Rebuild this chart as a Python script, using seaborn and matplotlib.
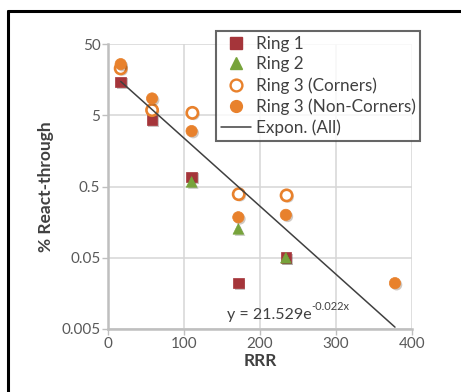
import numpy as np
import pandas as pd
import matplotlib
matplotlib.use("Agg")
import matplotlib.pyplot as plt
import matplotlib.patheffects as pe
from matplotlib.lines import Line2D
import seaborn as sns

# Measured react-through (%) against RRR for each ring position
ring1_rrr = [16.7, 58, 110, 171.5, 234]
ring1_pct = [14.7, 4.3, 0.68, 0.022, 0.050]

ring2_rrr = [110, 171.5, 234]
ring2_pct = [0.58, 0.127, 0.050]

ring3c_rrr = [16.7, 58, 111, 172, 235]
ring3c_pct = [22.7, 5.9, 5.4, 0.39, 0.375]

ring3n_rrr = [16.7, 58, 110, 171.5, 234, 377.6]
ring3n_pct = [26.1, 8.6, 3.0, 0.185, 0.20, 0.022]

# Exponential fit over all points: y = A * exp(k * x)
fit_a = 21.529
fit_k = -0.022

x_ticks = [0, 100, 200, 300, 400]
y_ticks = [0.005, 0.05, 0.5, 5, 50]
y_tick_labels = ["0.005", "0.05", "0.5", "5", "50"]

sns.set_theme(style="white")
plt.rcParams["font.family"] = ["Lato", "DejaVu Sans"]

c_red = "#A5353A"
c_green = "#77A33B"
c_orange = "#E8812C"
c_text = "#595959"

fig = plt.figure(figsize=(4.61, 3.92), dpi=100)
ax = fig.add_axes([108 / 461, 1 - 329 / 392, 304 / 461, 285 / 392])

df1 = pd.DataFrame({"RRR": ring1_rrr, "pct": ring1_pct})
df2 = pd.DataFrame({"RRR": ring2_rrr, "pct": ring2_pct})
df3c = pd.DataFrame({"RRR": ring3c_rrr, "pct": ring3c_pct})
df3n = pd.DataFrame({"RRR": ring3n_rrr, "pct": ring3n_pct})

sns.scatterplot(data=df1, x="RRR", y="pct", marker="s", s=58, color=c_red,
                edgecolor=c_red, linewidth=0.5, ax=ax, zorder=3)
sns.scatterplot(data=df2, x="RRR", y="pct", marker="^", s=58, color=c_green,
                edgecolor=c_green, linewidth=0.5, ax=ax, zorder=4)
sns.scatterplot(data=df3c, x="RRR", y="pct", marker="o", s=66, facecolor="white",
                edgecolor=c_orange, linewidth=1.9, ax=ax, zorder=5)
sns.scatterplot(data=df3n, x="RRR", y="pct", marker="o", s=66, color=c_orange,
                edgecolor=c_orange, linewidth=0.5, ax=ax, zorder=6)

for coll in ax.collections:
    coll.set_path_effects([pe.SimplePatchShadow(offset=(1.2, -1.2), alpha=0.25), pe.Normal()])

# Trend line drawn from the fitted equation across the data range
all_x = np.concatenate([ring1_rrr, ring2_rrr, ring3c_rrr, ring3n_rrr])
fit_x = np.linspace(all_x.min(), all_x.max(), 50)
fit_df = pd.DataFrame({"RRR": fit_x, "pct": fit_a * np.exp(fit_k * fit_x)})
sns.lineplot(data=fit_df, x="RRR", y="pct", color="#404040", linewidth=1.1, ax=ax, zorder=7)

ax.set_yscale("log")
ax.set_xlim(0, 400)
ax.set_ylim(0.005, 50)
ax.set_xticks(x_ticks)
ax.set_yticks(y_ticks)
ax.set_yticklabels(y_tick_labels)
ax.yaxis.set_minor_locator(matplotlib.ticker.NullLocator())

ax.grid(True, color="#D6D6D6", linewidth=1.1)
for side in ["top", "right"]:
    ax.spines[side].set_visible(False)
for side in ["left", "bottom"]:
    ax.spines[side].set_color("#BFBFBF")
    ax.spines[side].set_linewidth(1.8)
ax.tick_params(axis="both", which="major", length=4, width=1, color="#BFBFBF",
               labelsize=11, labelcolor=c_text, pad=1.5, bottom=True, left=True)

ax.set_xlabel("RRR", fontsize=12.5, fontweight="bold", color="#404040", labelpad=2)
ax.set_ylabel("% React-through", fontsize=12.5, fontweight="bold", color="#404040", labelpad=5)

# Fit equation
eq = ax.text(156, 0.0079, "y = 21.529e", fontsize=11.5, color="#404040", va="center", ha="left", zorder=8)
ax.annotate("-0.022x", xy=(1.0, 0.72), xycoords=eq, fontsize=8, color="#404040",
            va="bottom", ha="left", zorder=8)

handles = [
    Line2D([], [], linestyle="none", marker="s", markersize=8, color=c_red, label="Ring 1"),
    Line2D([], [], linestyle="none", marker="^", markersize=8, color=c_green, label="Ring 2"),
    Line2D([], [], linestyle="none", marker="o", markersize=8.5, markerfacecolor="white",
           markeredgecolor=c_orange, markeredgewidth=1.7, label="Ring 3 (Corners)"),
    Line2D([], [], linestyle="none", marker="o", markersize=8.5, color=c_orange, label="Ring 3 (Non-Corners)"),
    Line2D([], [], color="#404040", linewidth=1.1, label="Expon. (All)"),
]
leg = fig.legend(handles=handles, loc="upper left", bbox_to_anchor=(216 / 461, 1 - 31 / 392),
                 fontsize=12.3, frameon=True, fancybox=False, borderpad=0.28, labelspacing=0.27,
                 handlelength=1.75, handletextpad=0.3, borderaxespad=0)
leg.get_frame().set_edgecolor("#404040")
leg.get_frame().set_linewidth(1.5)
for t in leg.get_texts():
    t.set_color("#404040")

# Outer frame lines along the top and left edges
fig.add_artist(Line2D([8 / 461, 1.0], [1 - 11 / 392, 1 - 11 / 392], color="black", linewidth=2.2,
                      transform=fig.transFigure))
fig.add_artist(Line2D([8 / 461, 8 / 461], [0.0, 1 - 11 / 392], color="black", linewidth=2.2,
                      transform=fig.transFigure))

fig.savefig("out.png", dpi=100)
